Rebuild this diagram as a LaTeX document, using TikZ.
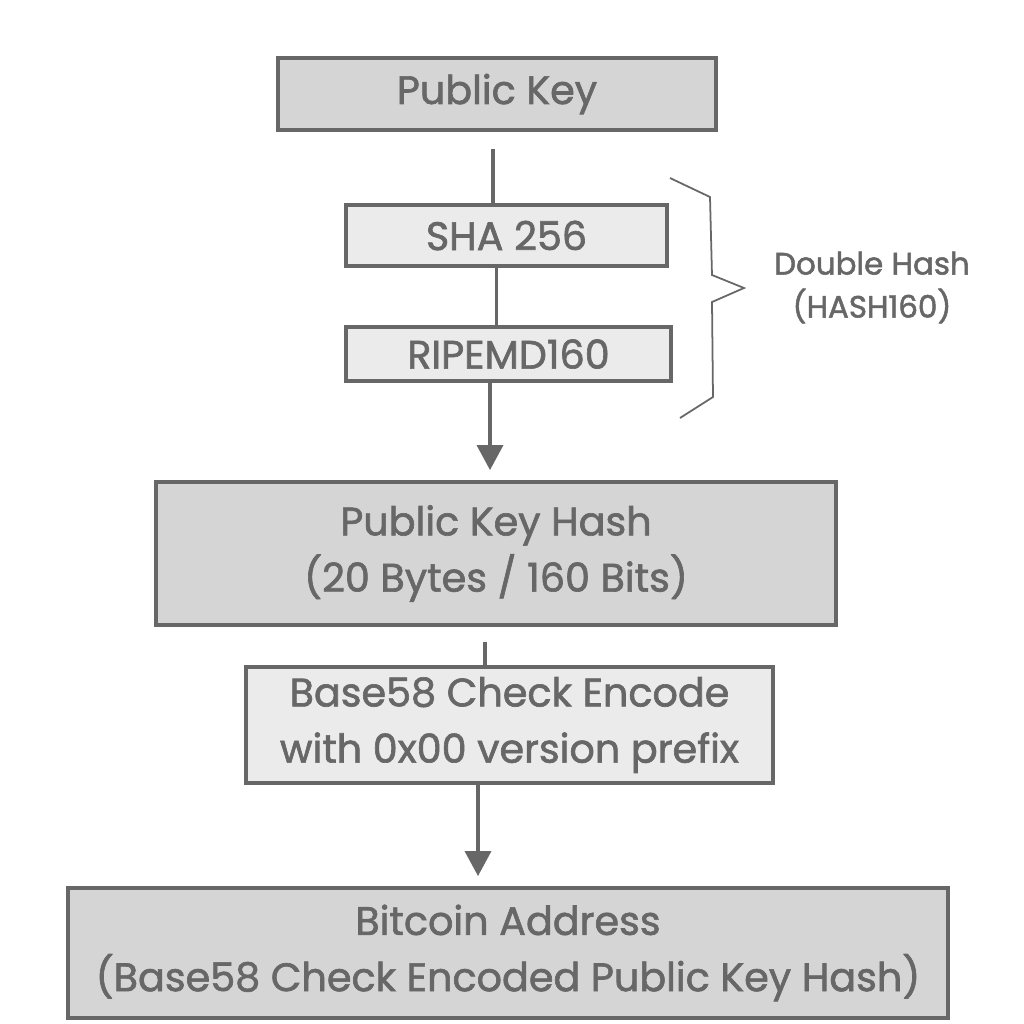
\documentclass[tikz,border=0pt]{standalone}
\usepackage{fontspec}
\setmainfont{Poppins}[FakeBold=1.6]
\usetikzlibrary{arrows.meta}
\definecolor{inkgray}{HTML}{676767}
\definecolor{darkfill}{HTML}{D5D5D5}
\definecolor{lightfill}{HTML}{EBEBEB}
\begin{document}
\begin{tikzpicture}[
  box/.style={draw=inkgray, line width=2.2pt, text=inkgray, align=center, inner sep=0pt,
    font=\fontsize{22.6}{32}\selectfont},
  keybox/.style={box, fill=darkfill},
  hashbox/.style={box, fill=lightfill},
  link/.style={draw=inkgray, line width=2pt},
  flow/.style={link, -{Triangle[width=0.52cm,length=0.5cm]}}
]
\useasboundingbox[fill=white] (0,0) rectangle (20.48,-20.48);
%Public key and the two hashes
\node[keybox, minimum width=8.76cm, minimum height=1.44cm] (pk) at (9.94,-1.88) {Public Key};
\node[hashbox, minimum width=6.42cm, minimum height=1.22cm] (sha) at (10.13,-4.71) {SHA 256};
\node[hashbox, minimum width=6.5cm, minimum height=1.08cm] (ripe) at (10.17,-7.08) {RIPEMD160};
\draw[link, shorten <=0.34cm] ([xshift=-0.08cm]pk.south) -- ([xshift=-0.08cm]pk.south |- sha.north);
\draw[link] ([xshift=-0.2cm]sha.south) -- ([xshift=-0.2cm]sha.south |- ripe.north);

%Brace and its label
\draw[draw=inkgray, line width=1pt] (13.4,-3.56) -- (14.2,-3.94) -- (14.24,-5.5) -- (14.88,-5.76)
  -- (14.24,-6.04) -- (14.26,-7.94) -- (13.6,-8.36);
\node[text=inkgray, align=center, font=\fontsize{17.6}{24.5}\selectfont] (double) at (17.44,-5.75) {Double Hash\\(HASH160)};

%Public key hash and encoding
\node[keybox, minimum width=13.6cm, minimum height=2.86cm] (pkh) at (9.92,-11.07) {Public Key Hash\\(20 Bytes / 160 Bits)};
\draw[flow, shorten >=0.2cm] ([xshift=-0.37cm]ripe.south) -- ([xshift=-0.37cm]ripe.south |- pkh.north);
\node[hashbox, minimum width=10.54cm, minimum height=2.32cm] (b58) at (10.19,-14.5) {Base58 Check Encode\\with 0x00 version prefix};
\draw[link, shorten <=0.3cm] ([xshift=-0.22cm]pkh.south) -- ([xshift=-0.22cm]pkh.south |- b58.north);

%Bitcoin address
\node[keybox, minimum width=17.6cm, minimum height=2.6cm] (addr) at (10.16,-19.06) {Bitcoin Address\\(Base58 Check Encoded Public Key Hash)};
\draw[flow, shorten >=0.2cm] ([xshift=-0.63cm]b58.south) -- ([xshift=-0.63cm]b58.south |- addr.north);
\end{tikzpicture}
\end{document}
